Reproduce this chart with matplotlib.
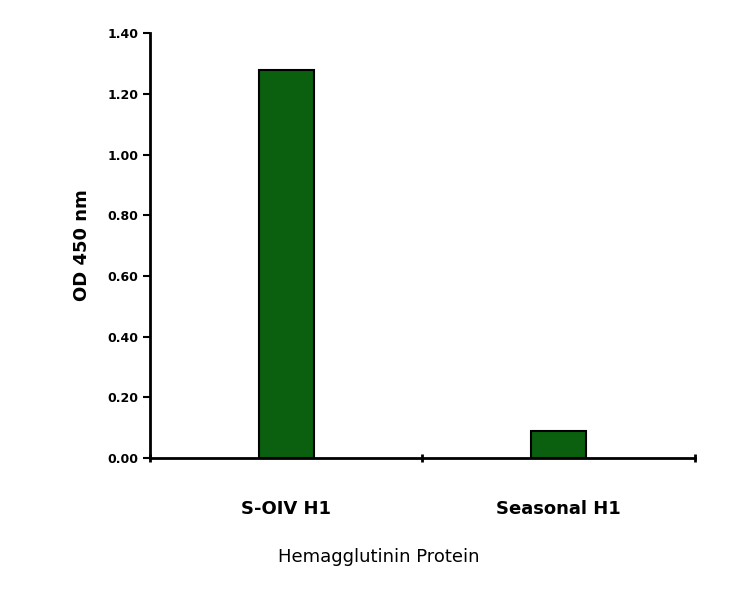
import numpy as np
import matplotlib.pyplot as plt

categories = ["S-OIV H1", "Seasonal H1"]
od_values = [1.28, 0.09]
y_ticks = [0.0, 0.2, 0.4, 0.6, 0.8, 1.0, 1.2, 1.4]

fig = plt.figure(figsize=(7.36, 5.94), dpi=100)
ax = fig.add_axes([0.204, 0.229, 0.74, 0.715])

x = np.arange(len(categories))
ax.bar(x, od_values, width=0.2, color="#0a600e", edgecolor="black", linewidth=1.5)

ax.set_xlim(-0.5, 1.5)
ax.set_ylim(0, 1.4)
ax.set_yticks(y_ticks)
ax.set_yticklabels([f"{v:.2f}" for v in y_ticks], fontsize=9, fontweight="bold")
ax.set_xticks([-0.5, 0.5, 1.5])
ax.set_xticklabels([])
ax.set_xticks(x, minor=True)
ax.set_xticklabels(categories, minor=True, fontsize=13, fontweight="bold")
ax.tick_params(axis="x", which="minor", length=0, pad=30)
ax.tick_params(axis="x", which="major", length=6, width=2, direction="inout")
ax.tick_params(axis="y", length=5, width=1.5, direction="out")

for s in ["top", "right"]:
    ax.spines[s].set_visible(False)
for s in ["left", "bottom"]:
    ax.spines[s].set_linewidth(2)

ax.set_ylabel("OD 450 nm", fontsize=13, labelpad=12, fontweight="bold")
ax.set_xlabel("Hemagglutinin Protein", fontsize=13, labelpad=22, x=0.42)

fig.savefig("out.png", dpi=100)
